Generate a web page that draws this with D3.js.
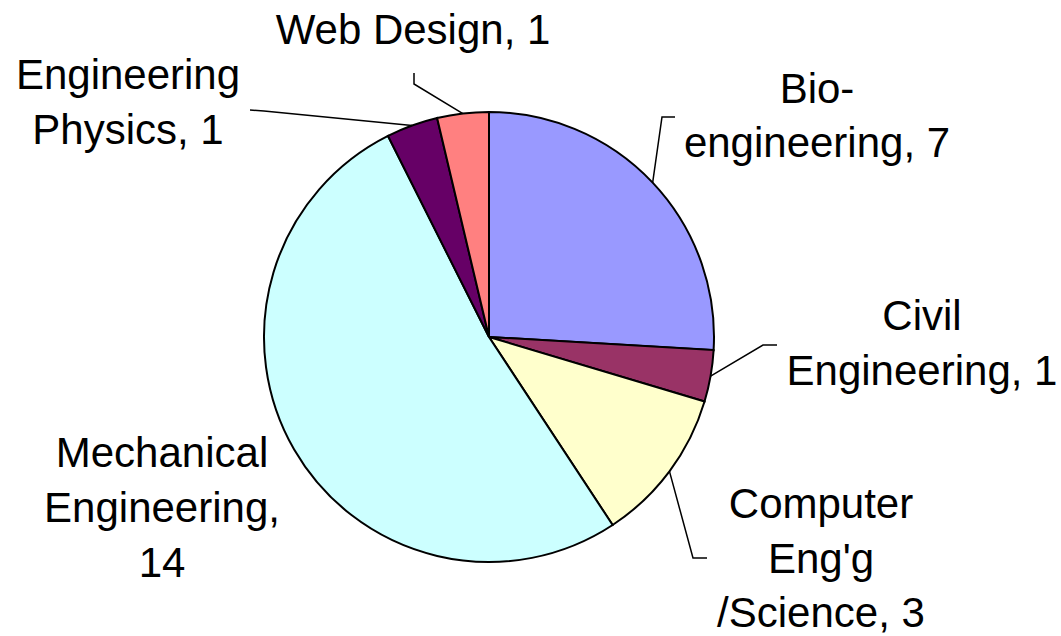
<!DOCTYPE html>
<html lang="en">
<head>
  <meta charset="UTF-8">
  <title>Majors pie</title>
  <style>
    body{ margin: 0; background: #fff; }
    .slice{ stroke: #000; stroke-width: 2px; }
    .leader{ fill: none; stroke: #000; stroke-width: 1.5px; }
    .label{ font-family: "Liberation Sans", Arial, sans-serif; font-size: 42px; fill: #000; }
  </style>
</head>
<body>
  <script src="https://cdn.jsdelivr.net/npm/d3@7"></script>
  <script>
    const categories = ['Bio-engineering', 'Civil Engineering', "Computer Eng'g /Science", 'Mechanical Engineering', 'Engineering Physics', 'Web Design'];
    const values = [7, 1, 3, 14, 1, 1];
    const colors = ['#9999ff', '#993366', '#ffffcc', '#ccffff', '#660066', '#ff8080'];

    const width = 1061, height = 636;
    const cx = 489, cy = 337, radius = 225;

    // where each label sits: centre x, first baseline, wrap width, leader elbow/end
    const layout = [
      { x: 817, y: 103, wrap: 280, lh: 54, elbow: [662, 117], end: [675, 117] },
      { x: 922, y: 330, wrap: 290, lh: 55, elbow: [763, 345], end: [777, 345] },
      { x: 821, y: 518, wrap: 220, lh: 54.5, elbow: [693, 558], end: [707, 558] },
      { x: 162, y: 467, wrap: 240, lh: 55, elbow: null, end: null },
      { x: 128, y: 89, wrap: 240, lh: 55, elbow: [264, 111], end: [250, 110] },
      { x: 413, y: 44, wrap: 400, lh: 55, elbow: [414, 84], end: [414, 73] }
    ];

    const data = categories.map((c, i) => ({ name: c, value: values[i], color: colors[i], lay: layout[i] }));

    const svg = d3.select('body').append('svg')
      .attr('width', width).attr('height', height);

    const pie = d3.pie().sort(null).value(d => d.value);
    const arc = d3.arc().innerRadius(0).outerRadius(radius);
    const edge = d3.arc().innerRadius(radius).outerRadius(radius);
    const arcs = pie(data);

    const g = svg.append('g').attr('transform', `translate(${cx},${cy})`);
    g.selectAll('path.slice').data(arcs)
      .enter().append('path')
        .attr('class', 'slice')
        .attr('fill', d => d.data.color)
        .attr('d', arc);

    // leader lines, from slice edge to label
    const line = d3.line();
    svg.selectAll('path.leader').data(arcs.filter(d => d.data.lay.elbow))
      .enter().append('path')
        .attr('class', 'leader')
        .attr('d', d => {
          const p = edge.centroid(d);
          return line([[cx + p[0], cy + p[1]], d.data.lay.elbow, d.data.lay.end]);
        });

    // labels, wrapped at spaces / hyphens like the spreadsheet does
    const labels = svg.selectAll('text.label').data(data)
      .enter().append('text')
        .attr('class', 'label')
        .attr('text-anchor', 'middle')
        .attr('x', d => d.lay.x)
        .attr('y', d => d.lay.y);

    labels.each(function(d){
      const text = d3.select(this);
      const tokens = `${d.name}, ${d.value}`.match(/[^\s-]+-?\s*/g);
      const lines = [];
      let cur = '';
      const probe = text.append('tspan');
      tokens.forEach(tok => {
        const trial = cur + tok;
        probe.text(trial.trim());
        if(cur && probe.node().getComputedTextLength() > d.lay.wrap){
          lines.push(cur.trim());
          cur = tok;
        }else{
          cur = trial;
        }
      });
      lines.push(cur.trim());
      probe.remove();
      lines.forEach((l, i) => {
        text.append('tspan')
          .attr('x', d.lay.x)
          .attr('y', d.lay.y + i * d.lay.lh)
          .text(l);
      });
    });
  </script>
</body>
</html>
